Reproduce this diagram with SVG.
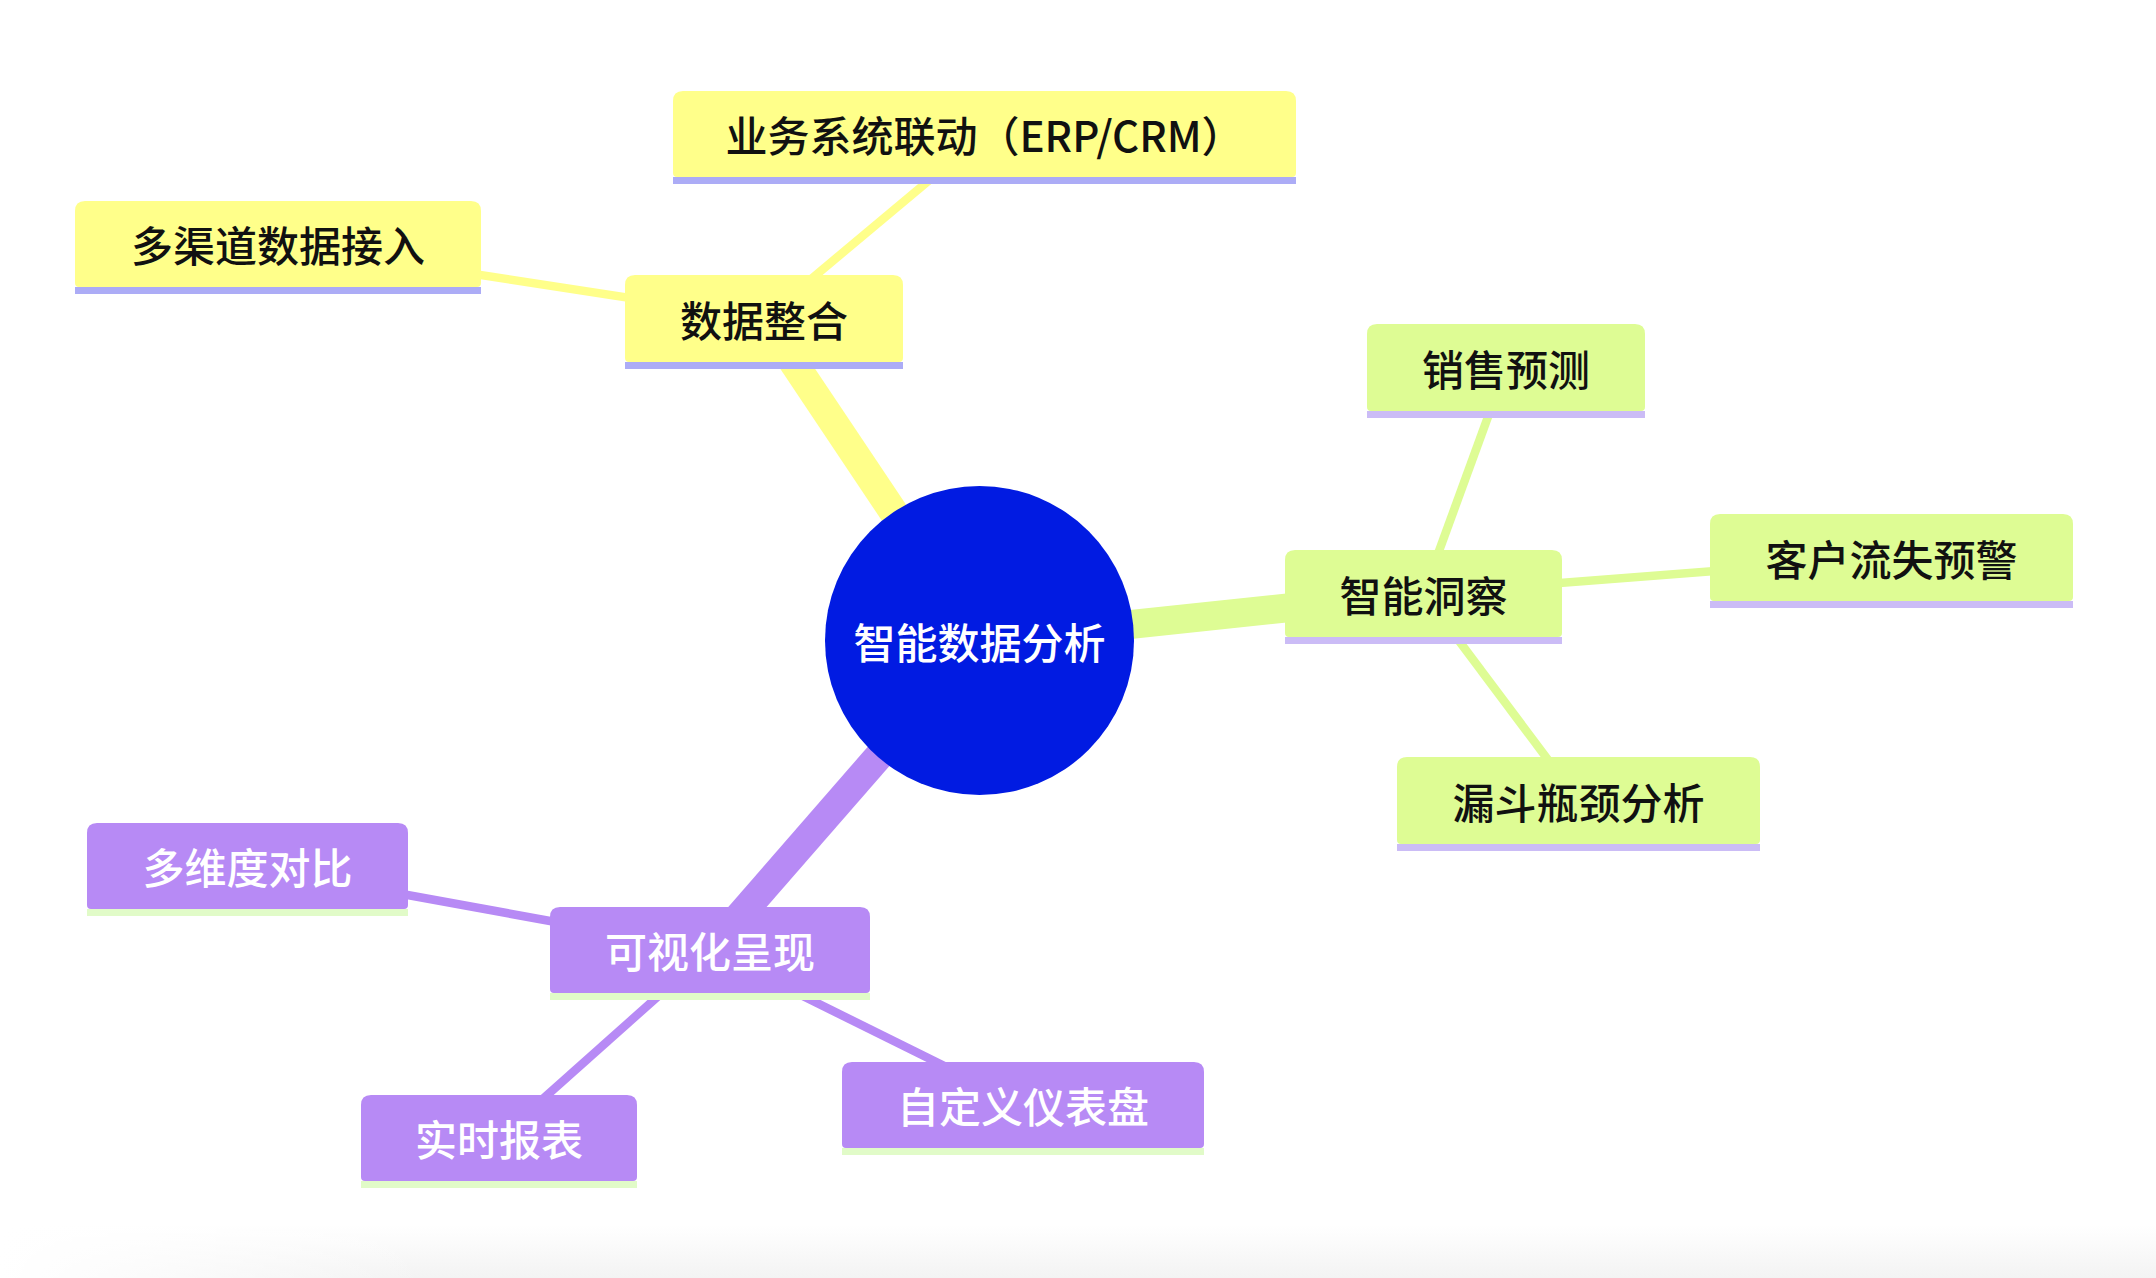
<svg xmlns="http://www.w3.org/2000/svg" width="2156" height="1278" viewBox="0 0 2156 1278">
<style>
.t{font-family:"Noto Sans CJK SC","Noto Sans",sans-serif;font-size:42px;font-weight:500;text-anchor:middle}
.dark{fill:#111}
.light{fill:#fff}
.y{fill:#ffff8a}
.yl{fill:#acacf6}
.g{fill:#defc94}
.gl{fill:#cbbcf6}
.p{fill:#b78af5}
.pl{fill:#e1fbc8}
.e{fill:none;stroke-linecap:butt}
.ey{stroke:#ffff8a}
.eg{stroke:#defc94}
.ep{stroke:#b78af5}
.d0{stroke-width:29}
.d1{stroke-width:8.5}
</style>
<defs>
<linearGradient id="bg" x1="0" y1="0" x2="0" y2="1">
<stop offset="0" stop-color="#ffffff"/>
<stop offset="1" stop-color="#f3f3f3"/>
</linearGradient>
<linearGradient id="fade" x1="0" y1="0" x2="1" y2="0">
<stop offset="0" stop-color="#fff" stop-opacity="1"/>
<stop offset="0.2" stop-color="#fff" stop-opacity="0"/>
</linearGradient>
</defs>
<rect x="0" y="0" width="2156" height="1278" fill="#ffffff"/>
<rect x="0" y="1225" width="2156" height="53" fill="url(#bg)"/>
<rect x="0" y="1225" width="2156" height="53" fill="url(#fade)"/>

<g id="connectors">
<line class="e ey d0" x1="979.5" y1="640.5" x2="764" y2="318.5"/>
<line class="e eg d0" x1="979.5" y1="640.5" x2="1423.5" y2="593.5"/>
<line class="e ep d0" x1="979.5" y1="640.5" x2="710" y2="950"/>
<line class="e ey d1" x1="764" y1="318.5" x2="984.5" y2="134"/>
<line class="e ey d1" x1="764" y1="318.5" x2="278" y2="244"/>
<line class="e eg d1" x1="1423.5" y1="593.5" x2="1506" y2="367.5"/>
<line class="e eg d1" x1="1423.5" y1="593.5" x2="1891.5" y2="557.5"/>
<line class="e eg d1" x1="1423.5" y1="593.5" x2="1578.5" y2="800.5"/>
<line class="e ep d1" x1="710" y1="950" x2="247.5" y2="866"/>
<line class="e ep d1" x1="710" y1="950" x2="499" y2="1138"/>
<line class="e ep d1" x1="710" y1="950" x2="1023" y2="1105"/>
</g>

<g id="root">
<circle cx="979.5" cy="640.5" r="154.5" fill="#011be2"/>
<text class="t light" x="979.5" y="659">智能数据分析</text>
</g>

<g id="n-data">
<path class="y" d="M625,362 V285 Q625,275 635,275 H893 Q903,275 903,285 V358 Q903,362 899,362 H629 Q625,362 625,358 Z"/>
<rect class="yl" x="625" y="362" width="278" height="7"/>
<text class="t dark" x="764" y="337">数据整合</text>
</g>
<g id="n-erp">
<path class="y" d="M673,177 V101 Q673,91 683,91 H1286 Q1296,91 1296,101 V173 Q1296,177 1292,177 H677 Q673,177 673,173 Z"/>
<rect class="yl" x="673" y="177" width="623" height="7"/>
<text class="t dark" x="984.5" y="152">业务系统联动（ERP/CRM）</text>
</g>
<g id="n-multi">
<path class="y" d="M75,287 V211 Q75,201 85,201 H471 Q481,201 481,211 V283 Q481,287 477,287 H79 Q75,287 75,283 Z"/>
<rect class="yl" x="75" y="287" width="406" height="7"/>
<text class="t dark" x="278" y="262">多渠道数据接入</text>
</g>

<g id="n-insight">
<path class="g" d="M1285,637 V560 Q1285,550 1295,550 H1552 Q1562,550 1562,560 V633 Q1562,637 1558,637 H1289 Q1285,637 1285,633 Z"/>
<rect class="gl" x="1285" y="637" width="277" height="7"/>
<text class="t dark" x="1423.5" y="612">智能洞察</text>
</g>
<g id="n-sales">
<path class="g" d="M1367,411 V334 Q1367,324 1377,324 H1635 Q1645,324 1645,334 V407 Q1645,411 1641,411 H1371 Q1367,411 1367,407 Z"/>
<rect class="gl" x="1367" y="411" width="278" height="7"/>
<text class="t dark" x="1506" y="386">销售预测</text>
</g>
<g id="n-churn">
<path class="g" d="M1710,601 V524 Q1710,514 1720,514 H2063 Q2073,514 2073,524 V597 Q2073,601 2069,601 H1714 Q1710,601 1710,597 Z"/>
<rect class="gl" x="1710" y="601" width="363" height="7"/>
<text class="t dark" x="1891.5" y="576">客户流失预警</text>
</g>
<g id="n-funnel">
<path class="g" d="M1397,844 V767 Q1397,757 1407,757 H1750 Q1760,757 1760,767 V840 Q1760,844 1756,844 H1401 Q1397,844 1397,840 Z"/>
<rect class="gl" x="1397" y="844" width="363" height="7"/>
<text class="t dark" x="1578.5" y="819">漏斗瓶颈分析</text>
</g>

<g id="n-visual">
<path class="p" d="M550,993 V917 Q550,907 560,907 H860 Q870,907 870,917 V989 Q870,993 866,993 H554 Q550,993 550,989 Z"/>
<rect class="pl" x="550" y="993" width="320" height="7"/>
<text class="t light" x="710" y="968">可视化呈现</text>
</g>
<g id="n-compare">
<path class="p" d="M87,909 V833 Q87,823 97,823 H398 Q408,823 408,833 V905 Q408,909 404,909 H91 Q87,909 87,905 Z"/>
<rect class="pl" x="87" y="909" width="321" height="7"/>
<text class="t light" x="247.5" y="884">多维度对比</text>
</g>
<g id="n-report">
<path class="p" d="M361,1181 V1105 Q361,1095 371,1095 H627 Q637,1095 637,1105 V1177 Q637,1181 633,1181 H365 Q361,1181 361,1177 Z"/>
<rect class="pl" x="361" y="1181" width="276" height="7"/>
<text class="t light" x="499" y="1156">实时报表</text>
</g>
<g id="n-dash">
<path class="p" d="M842,1148 V1072 Q842,1062 852,1062 H1194 Q1204,1062 1204,1072 V1144 Q1204,1148 1200,1148 H846 Q842,1148 842,1144 Z"/>
<rect class="pl" x="842" y="1148" width="362" height="7"/>
<text class="t light" x="1023" y="1123">自定义仪表盘</text>
</g>
</svg>
